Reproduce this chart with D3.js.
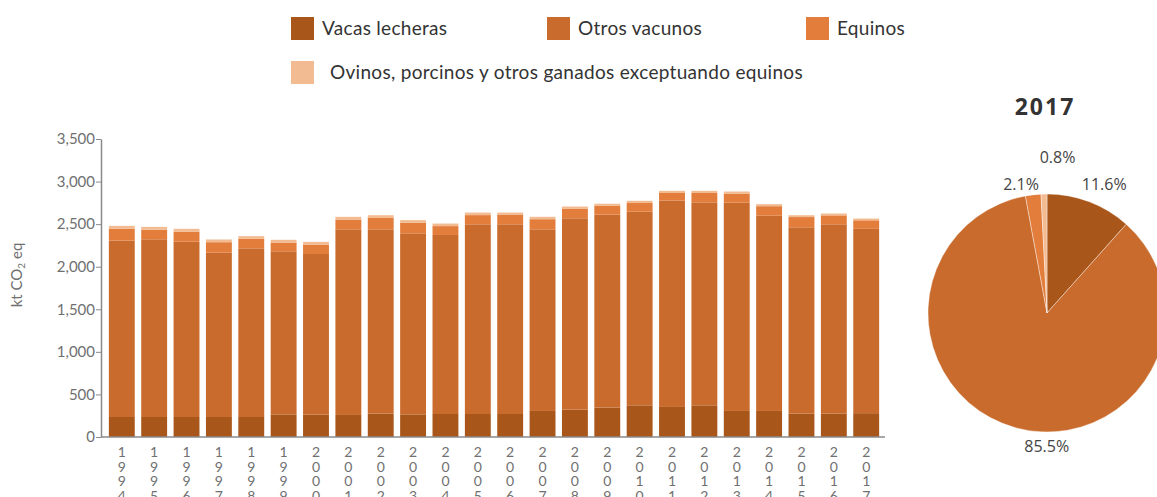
<!DOCTYPE html>
<html lang="es">
<head>
<meta charset="UTF-8">
<title>Ganado</title>
<script src="https://d3js.org/d3.v7.min.js"></script>
<style>
  body { margin: 0; background: #fff; }
  svg { display: block; }
  .leg text { font-family: Lato, "Open Sans", sans-serif; font-size: 19px; letter-spacing: 0.3px; fill: #333; }
  .tick-y { font-family: Lato, sans-serif; font-size: 15px; fill: #707070; }
  .tick-x { font-family: Lato, sans-serif; font-size: 14px; fill: #707070; }
  .pie-lbl { font-family: "Open Sans", sans-serif; font-size: 16px; fill: #444; }
</style>
</head>
<body>
<svg id="chart" width="1157" height="497"></svg>
<script>
// categorias (anios)
const years = ["1994","1995","1996","1997","1998","1999","2000","2001","2002","2003","2004","2005",
               "2006","2007","2008","2009","2010","2011","2012","2013","2014","2015","2016","2017"];
// series en kt CO2 eq
const vacasLecheras = [235,235,235,235,235,266,263,259,274,266,270,270,270,306,321,345,372,353,372,306,306,274,274,280];
const otrosVacunos  = [2071,2087,2059,1930,1981,1915,1886,2180,2165,2126,2103,2228,2228,2133,2248,2267,2274,2423,2384,2446,2293,2189,2224,2165];
const equinos       = [139,113,118,123,111,103,111,115,134,125,104,108,110,119,110,102,102,90,110,107,112,120,105,100];
const ovinosOtros   = [35,33,33,32,32,32,32,32,32,30,30,30,28,28,28,26,26,25,25,24,24,22,22,21];
const yTicks = [0,500,1000,1500,2000,2500,3000,3500];
const seriesNames = ["Vacas lecheras","Otros vacunos","Equinos","Ovinos, porcinos y otros ganados exceptuando equinos"];
// pastel 2017 (%)
const pieYear = "2017";
const pie2017 = [11.6, 85.5, 2.1, 0.8];

const colors = ["#a85619", "#c96b2c", "#e27d3b", "#f3bb91"];
const keys = ["vacas", "otros", "equinos", "ovinos"];

const svg = d3.select("#chart");

const rows = years.map((y, i) => ({
  year: y, vacas: vacasLecheras[i], otros: otrosVacunos[i], equinos: equinos[i], ovinos: ovinosOtros[i]
}));
const stacked = d3.stack().keys(keys)(rows);

const x = d3.scaleBand().domain(years).range([104, 884]).paddingInner(0.2).paddingOuter(0.15);
const y = d3.scaleLinear().domain([0, 3500]).range([437, 139]);

// barras
svg.append("g").selectAll("g")
  .data(stacked)
  .join("g")
  .attr("fill", (d, i) => colors[i])
  .selectAll("rect")
  .data(d => d)
  .join("rect")
  .attr("x", d => x(d.data.year))
  .attr("y", d => y(d[1]))
  .attr("width", x.bandwidth())
  .attr("height", d => y(d[0]) - y(d[1]));

// eje y
const yAxis = svg.append("g")
  .attr("transform", "translate(101,0)")
  .call(d3.axisLeft(y).tickValues(yTicks).tickSize(5).tickSizeOuter(0).tickFormat(d3.format(",")));
yAxis.select(".domain").attr("stroke", "#8a8a8a").attr("stroke-width", 1.5);
yAxis.selectAll(".tick line").attr("stroke", "#8a8a8a");
yAxis.selectAll(".tick text").attr("class", "tick-y").attr("x", -6).attr("font-family", null).attr("font-size", null).attr("fill", null);

// eje x
svg.append("line")
  .attr("x1", 101).attr("x2", 885)
  .attr("y1", y(0)).attr("y2", y(0))
  .attr("stroke", "#8a8a8a").attr("stroke-width", 1.5);

// etiquetas verticales: un digito por linea
const xl = svg.append("g").selectAll("text")
  .data(years)
  .join("text")
  .attr("class", "tick-x")
  .attr("text-anchor", "middle");
xl.each(function (yr) {
  const t = d3.select(this);
  yr.split("").forEach((ch, k) => {
    t.append("tspan")
      .attr("x", x(yr) + x.bandwidth() / 2)
      .attr("y", 457 + k * 14.5)
      .text(ch);
  });
});

// titulo eje y
const yt = svg.append("text")
  .attr("transform", "translate(22,275) rotate(-90)")
  .attr("text-anchor", "middle")
  .attr("font-family", "Lato, sans-serif")
  .attr("font-size", 15)
  .attr("fill", "#707070");
yt.append("tspan").text("kt CO");
yt.append("tspan").attr("font-size", 10).attr("dy", 3).text("2");
yt.append("tspan").attr("dy", -3).text(" eq");

// leyenda
const legPos = [[291, 17], [547, 17], [806, 17], [291, 61]];
const leg = svg.append("g").attr("class", "leg")
  .selectAll("g")
  .data(seriesNames)
  .join("g")
  .attr("transform", (d, i) => `translate(${legPos[i][0]},${legPos[i][1]})`);
leg.append("rect")
  .attr("width", 23).attr("height", 23)
  .attr("fill", (d, i) => colors[i]);
leg.append("text")
  .attr("x", (d, i) => i === 3 ? 39 : 31)
  .attr("y", 18)
  .text(d => d);

// pastel
const cx = 1047, cy = 313, r = 119;
const pie = d3.pie().sort(null).value(d => d);
const arcs = pie(pie2017);
const arc = d3.arc().innerRadius(0).outerRadius(r);
const pg = svg.append("g").attr("transform", `translate(${cx},${cy})`);
pg.selectAll("path")
  .data(arcs)
  .join("path")
  .attr("d", arc)
  .attr("fill", (d, i) => colors[i])
  .attr("stroke", "#fff")
  .attr("stroke-width", 0.4);

const lblArc = d3.arc().innerRadius(138).outerRadius(138);
const nudge = [[8, 0], [37, 0], [-10, 8], [14, -18]];
pg.selectAll("text.pie-lbl")
  .data(arcs)
  .join("text")
  .attr("class", "pie-lbl")
  .attr("text-anchor", "middle")
  .attr("x", (d, i) => lblArc.centroid(d)[0] + nudge[i][0])
  .attr("y", (d, i) => lblArc.centroid(d)[1] + nudge[i][1] + 6)
  .text(d => d.data.toFixed(1) + "%");

svg.append("text")
  .attr("x", 1045).attr("y", 115)
  .attr("text-anchor", "middle")
  .attr("font-family", "'Open Sans', sans-serif")
  .attr("font-weight", 700)
  .attr("font-size", 23)
  .attr("letter-spacing", 2)
  .attr("fill", "#333")
  .text(pieYear);
</script>
</body>
</html>
